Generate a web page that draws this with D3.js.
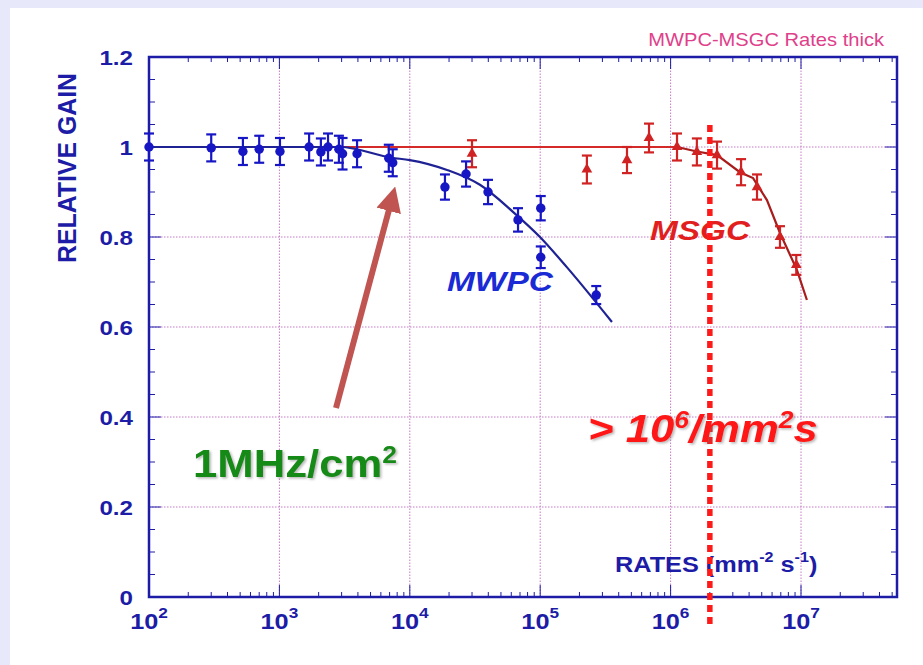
<!DOCTYPE html>
<html lang="en">
<head>
<meta charset="UTF-8">
<title>MWPC-MSGC Rates thick</title>
<style>
    body { margin: 0; }
    text { font-family: "Liberation Sans", Arial, sans-serif; }
</style>
</head>
<body>
<script src="https://d3js.org/d3.v7.min.js"></script>
<script>
    // MWPC points: rate (mm^-2 s^-1), relative gain, error
    const mwpcRate = [100, 300, 525, 700, 1010, 1690, 2080, 2360, 2860, 3050, 3940, 6900, 7400, 18600, 27000, 39800, 67600, 101000, 101000, 269000];
    const mwpcGain = [1.0, 0.998, 0.99, 0.995, 0.99, 1.0, 0.989, 1.0, 0.995, 0.985, 0.985, 0.975, 0.965, 0.911, 0.94, 0.90, 0.838, 0.864, 0.755, 0.671];
    const mwpcErr  = [0.03, 0.03, 0.03, 0.03, 0.03, 0.03, 0.03, 0.03, 0.03, 0.035, 0.03, 0.03, 0.03, 0.028, 0.028, 0.027, 0.026, 0.027, 0.024, 0.02];

    // MWPC fit curve
    const mwpcFitRate = [100, 2920, 7300, 10000, 19300, 34500, 61800, 99600, 160000, 355000];
    const mwpcFitGain = [1.0, 1.0, 0.976, 0.971, 0.949, 0.916, 0.856, 0.80, 0.733, 0.611];

    // MSGC points
    const msgcRate = [30000, 228000, 463000, 683000, 1.12e6, 1.59e6, 2.27e6, 3.47e6, 4.6e6, 6.9e6, 9.2e6];
    const msgcGain = [0.985, 0.95, 0.971, 1.02, 1.0, 0.989, 0.982, 0.944, 0.911, 0.80, 0.738];
    const msgcErr  = [0.03, 0.031, 0.029, 0.032, 0.03, 0.03, 0.03, 0.029, 0.028, 0.024, 0.022];

    // MSGC flat line and fall-off fit
    const msgcFlatRate = [100, 1.12e6];
    const msgcFlatGain = [1.0, 1.0];
    const msgcFitRate = [1.12e6, 1.59e6, 2.27e6, 3.4e6, 4.29e6, 5.48e6, 6.9e6, 9.3e6, 1.11e7];
    const msgcFitGain = [1.0, 0.99, 0.982, 0.944, 0.931, 0.882, 0.809, 0.727, 0.66];

    // axis ticks
    const decades = [2, 3, 4, 5, 6, 7];
    const yTicks = [0, 0.2, 0.4, 0.6, 0.8, 1, 1.2];
    const yTickLabels = ["0", "0.2", "0.4", "0.6", "0.8", "1", "1.2"];
    const limitRate = 2e6;

    const W = 923, H = 665,
        margin = {top: 57, right: 26, bottom: 68, left: 149},
        width = W - margin.left - margin.right,
        height = H - margin.top - margin.bottom,
        axisColor = "#1c1ca6",
        gridColor = "#c67ac6",
        stretch = 1.15;

    const x = d3.scaleLog()
        .domain([100, Math.pow(10, 2 + width / 130.4)])
        .range([margin.left, margin.left + width]);
    const y = d3.scaleLinear()
        .domain([0, 1.2])
        .range([margin.top + height, margin.top]);

    const svg = d3.select("body").append("svg")
        .attr("width", W)
        .attr("height", H);

    const defs = svg.append("defs");
    defs.append("filter").attr("id", "shadow")
        .attr("x", "-10%").attr("y", "-20%").attr("width", "130%").attr("height", "150%")
        .append("feDropShadow")
        .attr("dx", 1.5).attr("dy", 1.5).attr("stdDeviation", 1)
        .attr("flood-color", "#666").attr("flood-opacity", 0.45);
    defs.append("marker").attr("id", "head")
        .attr("viewBox", "0 0 10 10")
        .attr("refX", 2).attr("refY", 5)
        .attr("markerWidth", 4.2).attr("markerHeight", 4.2)
        .attr("orient", "auto")
        .append("path").attr("d", "M0,0L10,5L0,10z").attr("fill", "#bf5450");

    // page background
    svg.append("rect").attr("width", W).attr("height", H).attr("fill", "#e7e8f9");
    svg.append("rect").attr("x", 10).attr("y", 8).attr("width", W - 10).attr("height", H - 8).attr("fill", "#fff");

    // horizontally stretched text, like the original picture
    function label(px, py) {
        return svg.append("g")
            .attr("transform", `translate(${px},${py}) scale(${stretch},1)`)
            .append("text");
    }

    const x0 = margin.left, x1 = margin.left + width,
        y0 = margin.top + height, y1 = margin.top;

    // grid
    const grid = svg.append("g")
        .attr("stroke", gridColor)
        .attr("stroke-width", 1)
        .attr("stroke-dasharray", "1.5,1.5");
    grid.selectAll(".gx").data(decades.slice(1)).enter().append("line")
        .attr("x1", d => x(Math.pow(10, d))).attr("x2", d => x(Math.pow(10, d)))
        .attr("y1", y0).attr("y2", y1);
    grid.selectAll(".gy").data(yTicks.slice(1, -1)).enter().append("line")
        .attr("x1", x0).attr("x2", x1)
        .attr("y1", d => y(d)).attr("y2", d => y(d));

    // ticks
    const minorX = [];
    decades.forEach(function(d) {
        for (let k = 2; k <= 9; k++) {
            const v = k * Math.pow(10, d);
            if (v < x.domain()[1]) minorX.push(v);
        }
    });
    const minorY = d3.range(0, 25).map(i => i * 0.05);

    const ticks = svg.append("g").attr("stroke", axisColor).attr("stroke-width", 1);
    [[y0, -1], [y1, 1]].forEach(function(side) {
        ticks.append("g").selectAll("line").data(minorX).enter().append("line")
            .attr("x1", d => x(d)).attr("x2", d => x(d))
            .attr("y1", side[0]).attr("y2", side[0] + side[1] * 5);
        ticks.append("g").selectAll("line").data(decades.slice(1)).enter().append("line")
            .attr("x1", d => x(Math.pow(10, d))).attr("x2", d => x(Math.pow(10, d)))
            .attr("y1", side[0]).attr("y2", side[0] + side[1] * 12);
    });
    [[x0, 1], [x1, -1]].forEach(function(side) {
        ticks.append("g").selectAll("line").data(minorY).enter().append("line")
            .attr("y1", d => y(d)).attr("y2", d => y(d))
            .attr("x1", side[0])
            .attr("x2", (d, i) => side[0] + side[1] * (i % 4 === 0 ? 12 : 6));
    });

    // frame
    svg.append("rect")
        .attr("x", x0).attr("y", y1)
        .attr("width", width).attr("height", height)
        .attr("fill", "none")
        .attr("stroke", axisColor)
        .attr("stroke-width", 2.5);

    // tick labels
    yTicks.forEach(function(v, i) {
        label(133, y(v)).attr("dy", "0.36em")
            .attr("text-anchor", "end")
            .attr("font-size", 21).attr("font-weight", "bold")
            .attr("fill", axisColor)
            .text(yTickLabels[i]);
    });
    decades.forEach(function(d) {
        const t = label(x(Math.pow(10, d)), 629)
            .attr("text-anchor", "middle")
            .attr("font-size", 22).attr("font-weight", "bold")
            .attr("fill", axisColor);
        t.append("tspan").text("10");
        t.append("tspan").attr("dy", -11).attr("font-size", 15).text(d);
    });

    // axis titles
    svg.append("g")
        .attr("transform", `translate(76,168) scale(${stretch},1) rotate(-90)`)
        .append("text")
        .attr("text-anchor", "middle")
        .attr("font-size", 22).attr("font-weight", "bold")
        .attr("fill", axisColor)
        .attr("textLength", 190).attr("lengthAdjust", "spacingAndGlyphs")
        .text("RELATIVE GAIN");

    const xt = label(615, 572)
        .attr("font-size", 22).attr("font-weight", "bold")
        .attr("fill", axisColor);
    xt.append("tspan").text("RATES (mm");
    xt.append("tspan").attr("dy", -10).attr("font-size", 14).text("-2");
    xt.append("tspan").attr("dy", 10).text(" s");
    xt.append("tspan").attr("dy", -10).attr("font-size", 14).text("-1");
    xt.append("tspan").attr("dy", 10).text(")");

    label(884, 46)
        .attr("text-anchor", "end")
        .attr("font-size", 17.5)
        .attr("fill", "#e0408a")
        .text("MWPC-MSGC Rates thick");

    // curves
    const line = d3.line().x(d => x(d[0])).y(d => y(d[1]));
    const smooth = d3.line().x(d => x(d[0])).y(d => y(d[1])).curve(d3.curveMonotoneX);

    svg.append("path")
        .attr("d", line(d3.zip(msgcFlatRate, msgcFlatGain)))
        .attr("fill", "none").attr("stroke", "#d42a2a").attr("stroke-width", 2.2);
    svg.append("path")
        .attr("d", line(d3.zip(msgcFitRate, msgcFitGain)))
        .attr("fill", "none").attr("stroke", "#a81c1c").attr("stroke-width", 2.2);
    svg.append("path")
        .attr("d", smooth(d3.zip(mwpcFitRate, mwpcFitGain)))
        .attr("fill", "none").attr("stroke", "#1e2294").attr("stroke-width", 2.2);

    // error bars and markers
    function errorBars(rates, gains, errs, color) {
        const g = svg.append("g").attr("stroke", color).attr("stroke-width", 2.2);
        const pts = d3.zip(rates, gains, errs);
        g.selectAll(".v").data(pts).enter().append("line")
            .attr("x1", d => x(d[0])).attr("x2", d => x(d[0]))
            .attr("y1", d => y(d[1] - d[2])).attr("y2", d => y(d[1] + d[2]));
        [-1, 1].forEach(function(s) {
            g.append("g").selectAll("line").data(pts).enter().append("line")
                .attr("x1", d => x(d[0]) - 5).attr("x2", d => x(d[0]) + 5)
                .attr("y1", d => y(d[1] + s * d[2])).attr("y2", d => y(d[1] + s * d[2]));
        });
        return pts;
    }

    const mwpcPts = errorBars(mwpcRate, mwpcGain, mwpcErr, "#1616c4");
    svg.append("g").selectAll("path").data(mwpcPts).enter().append("path")
        .attr("transform", d => `translate(${x(d[0])},${y(d[1])})`)
        .attr("d", d3.symbol().type(d3.symbolCircle).size(70))
        .attr("fill", "#1616c4");

    const msgcPts = errorBars(msgcRate, msgcGain, msgcErr, "#d02222");
    svg.append("g").selectAll("path").data(msgcPts).enter().append("path")
        .attr("transform", d => `translate(${x(d[0])},${y(d[1])})`)
        .attr("d", d3.symbol().type(d3.symbolTriangle).size(50))
        .attr("fill", "#d02222");

    // series names
    label(447, 291)
        .attr("font-size", 27).attr("font-weight", "bold").attr("font-style", "italic")
        .attr("fill", "#1a2ad4")
        .attr("textLength", 92).attr("lengthAdjust", "spacingAndGlyphs")
        .text("MWPC");
    label(650, 240)
        .attr("font-size", 27).attr("font-weight", "bold").attr("font-style", "italic")
        .attr("fill", "#e21f1f")
        .attr("textLength", 87).attr("lengthAdjust", "spacingAndGlyphs")
        .text("MSGC");

    // rate limit marker
    svg.append("line")
        .attr("x1", x(limitRate)).attr("x2", x(limitRate))
        .attr("y1", 125).attr("y2", 628)
        .attr("stroke", "#ff1a1a")
        .attr("stroke-width", 5.5)
        .attr("stroke-dasharray", "7,5");

    // annotations
    svg.append("line")
        .attr("x1", 336).attr("y1", 408)
        .attr("x2", 390).attr("y2", 206)
        .attr("stroke", "#bf5450")
        .attr("stroke-width", 6)
        .attr("marker-end", "url(#head)");

    const mhz = label(193, 477)
        .attr("font-size", 38).attr("font-weight", "bold")
        .attr("fill", "#138a13")
        .attr("filter", "url(#shadow)");
    mhz.append("tspan").text("1MHz/cm");
    mhz.append("tspan").attr("dy", -14).attr("font-size", 23).text("2");

    const lim = label(588, 442)
        .attr("font-size", 38).attr("font-weight", "bold").attr("font-style", "italic")
        .attr("fill", "#ff1414")
        .attr("filter", "url(#shadow)");
    lim.append("tspan").text("> 10");
    lim.append("tspan").attr("dy", -14).attr("font-size", 23).text("6");
    lim.append("tspan").attr("dy", 14).text("/mm");
    lim.append("tspan").attr("dy", -14).attr("font-size", 23).text("2");
    lim.append("tspan").attr("dy", 14).text("s");
</script>
</body>
</html>
